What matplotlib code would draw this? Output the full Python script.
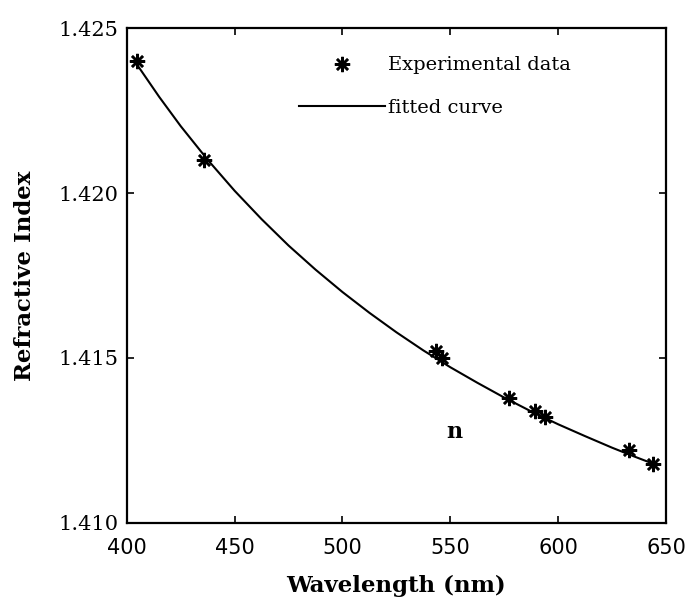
import matplotlib
matplotlib.use("Agg")
import matplotlib.pyplot as plt

wavelength_exp = [404.7, 435.8, 543.5, 546.1, 577.0, 589.3, 594.0, 632.8, 643.8]
n_exp = [1.4240, 1.4210, 1.4152, 1.4150, 1.4138, 1.4134, 1.4132, 1.4122, 1.4118]

# Fitted curve values
wavelength_fit = [404.7, 415, 425, 437.5, 450, 462.5, 475, 487.5, 500, 512.5, 525,
                  537.5, 550, 562.5, 575, 587.5, 600, 612.5, 625, 635, 645]
n_fit = [1.42390, 1.42292, 1.42203, 1.42101, 1.42007, 1.41921, 1.41841, 1.41768,
         1.41700, 1.41637, 1.41578, 1.41523, 1.41472, 1.41425, 1.41380, 1.41338,
         1.41299, 1.41263, 1.41228, 1.41202, 1.41177]

x_ticks = [400, 450, 500, 550, 600, 650]
y_ticks = [1.410, 1.415, 1.420, 1.425]
y_tick_labels = ["1.410", "1.415", "1.420", "1.425"]

fig = plt.figure(figsize=(6.93, 6.01), dpi=100)
ax = fig.add_axes([0.183, 0.130, 0.778, 0.823])

ax.plot(wavelength_exp, n_exp, linestyle="none", marker=(8, 2, 0), markersize=11,
        markeredgewidth=1.8, color="black", label="Experimental data")
ax.plot(wavelength_fit, n_fit, color="black", linewidth=1.5, label="fitted curve")

ax.set_xlim(400, 650)
ax.set_ylim(1.410, 1.425)
ax.set_xticks(x_ticks)
ax.set_yticks(y_ticks)
ax.set_yticklabels(y_tick_labels)
ax.tick_params(direction="in", top=True, right=True, length=5, width=1.2)
ax.tick_params(axis="x", pad=11)
ax.tick_params(axis="y", pad=6)
for lab in ax.get_xticklabels():
    lab.set_family(["Liberation Sans Narrow", "DejaVu Sans"])
    lab.set_fontsize(15)
for lab in ax.get_yticklabels():
    lab.set_family("DejaVu Serif")
    lab.set_fontsize(15)
for sp in ax.spines.values():
    sp.set_linewidth(1.6)

ax.set_xlabel("Wavelength (nm)", family="DejaVu Serif", fontweight="bold", fontsize=16.5, labelpad=12)
ax.set_ylabel("Refractive Index", family="DejaVu Serif", fontweight="bold", fontsize=16.5, labelpad=16)

ax.text(552, 1.41276, "n", family="DejaVu Serif", fontweight="bold", fontsize=16,
        ha="center", va="center")

leg = ax.legend(loc="upper left", bbox_to_anchor=(0.32, 0.943), frameon=False,
                prop={"family": "DejaVu Serif", "size": 14}, handlelength=4.4,
                handletextpad=0.15, labelspacing=1.25, borderpad=0, borderaxespad=0)

fig.savefig("out.png", dpi=100)
